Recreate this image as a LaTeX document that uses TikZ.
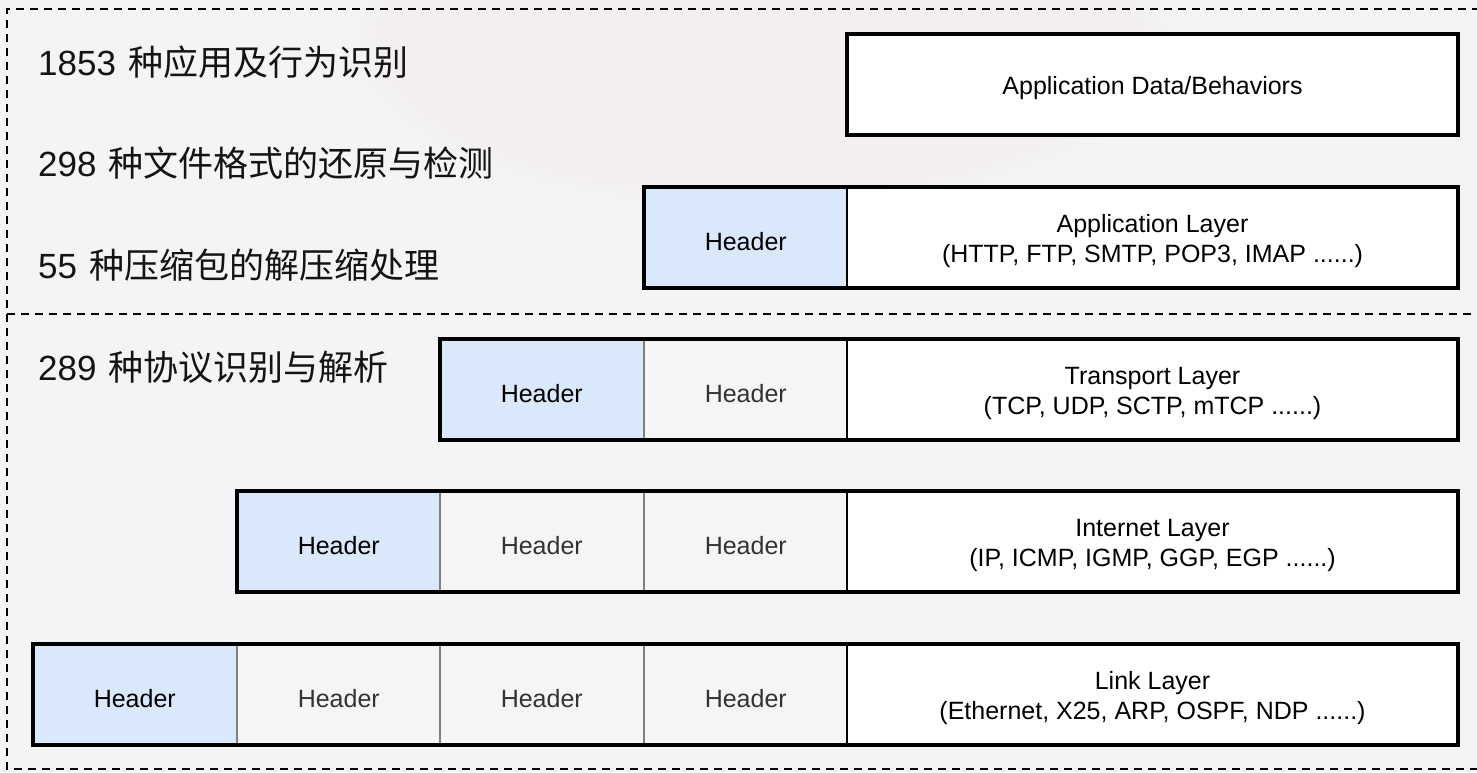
\documentclass[tikz,border=0pt]{standalone}
\usepackage{fontspec}
\setmainfont{Liberation Sans}
\newfontfamily\cjk{Noto Sans CJK SC}
\usetikzlibrary{shadings,fadings}

\definecolor{pagebg}{HTML}{F4F4F6}
\definecolor{glow}{HTML}{F2D9DA}
\definecolor{hdrblue}{HTML}{DAE8FC}
\definecolor{hdrgray}{HTML}{F5F5F5}
\definecolor{cellline}{HTML}{808080}
\definecolor{graytext}{HTML}{333333}
\definecolor{labeltext}{HTML}{141414}

\tikzset{
  cellbase/.style={rectangle, outer sep=0pt, inner sep=0pt,
    minimum width=203.5pt, minimum height=101pt, anchor=north west},
  celltext/.style={inner sep=0pt, yshift=-4pt, align=center,
    font=\fontsize{25}{30}\selectfont},
  bluecell/.style={cellbase, fill=hdrblue, draw=cellline, line width=2pt,
    label={[celltext, text=black]center:#1}},
  graycell/.style={cellbase, fill=hdrgray, draw=cellline, line width=2pt,
    label={[celltext, text=graytext]center:#1}},
  datacell/.style={cellbase, fill=white, draw=black, line width=2pt,
    minimum width=611pt, label={[celltext, text=black]center:#1}},
  rowframe/.style={draw=black, line width=4.5pt},
  zoneline/.style={draw=black, line width=2pt, dash pattern=on 8pt off 6pt},
  capability/.style={anchor=west, inner sep=0pt, text=labeltext,
    font=\cjk\fontsize{35}{40}\selectfont}
}
% figures in the capability labels use the Latin face
\newcommand\qty[1]{{\rmfamily #1}\hspace{12pt}}

\begin{document}
\begin{tikzpicture}[x=1pt, y=-1pt]
  \useasboundingbox (0,0) rectangle (1477,772);
  % page background with a faint warm glow near the top
  \begin{scope}
    \clip (0,0) rectangle (1477,772);
    \fill[pagebg] (0,0) rectangle (1477,772);
    \fill[glow, opacity=0.22, path fading=circle with fuzzy edge 15 percent]
      (760,40) ellipse (420pt and 170pt);
  \end{scope}

  % dashed zones: upper (application) and lower (protocol stack)
  \draw[zoneline] (1480,9) -- (7,9) -- (7,769) -- (1480,769);
  \draw[zoneline] (7,314) -- (1480,314);

  % capability labels
  \node[capability] (capApp)  at (38,62)  {\qty{1853}种应用及行为识别};
  \node[capability] (capFile) at (38,163) {\qty{298}种文件格式的还原与检测};
  \node[capability] (capZip)  at (38,265) {\qty{55}种压缩包的解压缩处理};
  \node[capability] (capProt) at (38,367) {\qty{289}种协议识别与解析};

  % application data
  \node[datacell={Application Data/Behaviors}] (appData) at (847,34) {};
  \draw[rowframe] (appData.north west) rectangle (appData.south east);

  % application layer
  \node[bluecell=Header] (a1) at (644,187) {};
  \node[datacell={Application Layer\\(HTTP, FTP, SMTP, POP3, IMAP ......)}] (aD) at (847,187) {};
  \draw[rowframe] (a1.north west) rectangle (aD.south east);

  % transport layer
  \node[bluecell=Header] (t1) at (440,339) {};
  \node[graycell=Header] (t2) at (644,339) {};
  \node[datacell={Transport Layer\\(TCP, UDP, SCTP, mTCP ......)}] (tD) at (847,339) {};
  \draw[rowframe] (t1.north west) rectangle (tD.south east);

  % internet layer
  \node[bluecell=Header] (i1) at (237,491) {};
  \node[graycell=Header] (i2) at (440,491) {};
  \node[graycell=Header] (i3) at (644,491) {};
  \node[datacell={Internet Layer\\(IP, ICMP, IGMP, GGP, EGP ......)}] (iD) at (847,491) {};
  \draw[rowframe] (i1.north west) rectangle (iD.south east);

  % link layer
  \node[bluecell=Header] (l1) at (33,644)  {};
  \node[graycell=Header] (l2) at (237,644) {};
  \node[graycell=Header] (l3) at (440,644) {};
  \node[graycell=Header] (l4) at (644,644) {};
  \node[datacell={Link Layer\\(Ethernet, X25, ARP, OSPF, NDP ......)}] (lD) at (847,644) {};
  \draw[rowframe] (l1.north west) rectangle (lD.south east);
\end{tikzpicture}
\end{document}
